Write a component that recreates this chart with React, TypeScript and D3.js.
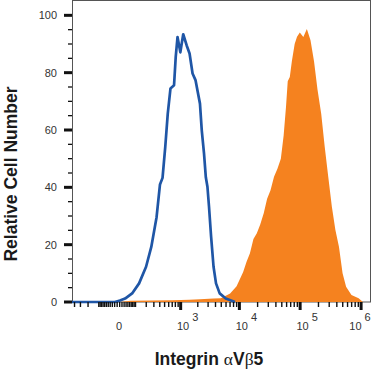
import { useEffect, useRef } from 'react';
import * as d3 from 'd3';

const WIDTH = 372;
const HEIGHT = 373;

// isotype control (blue outline)
const isotypeIntensity = [
  -450, -9, 11, 35, 76, 129, 198, 263, 343, 404, 455, 515, 576, 649, 757, 813, 877, 987, 1112, 1281,
  1440, 1624, 1826, 2180, 2340, 2558, 2745, 2924, 3105, 3372, 3708, 4080, 4700, 5940, 8470,
];
const isotypeCount = [
  0, 0, 0.5, 1.2, 3.0, 6.5, 12.3, 19.2, 29.6, 41.0, 43.3, 54.1, 65.7, 74.5, 75.6, 85.5, 92.4, 87.1, 93.4, 89.5,
  86.7, 79.7, 77.4, 69.2, 59.9, 51.8, 43.5, 40.2, 33.4, 22.8, 12.3, 6.5, 3.0, 1.2, 0,
];

// anti-Integrin aVb5 stained (orange fill)
const stainedIntensity = [
  11, 65, 263, 701, 1425, 2180, 3708, 4920, 7020, 8990, 11550, 13140, 14950, 17070, 19420, 22090, 25220,
  28680, 32630, 37260, 42390, 48220, 53560, 58590, 62590, 67680, 73160, 81340, 88960, 98830, 112900,
  129000, 148000, 169000, 193000, 221800, 253400, 289300, 331700, 379000, 433500, 497000, 567800,
  695000, 911000, 1071000,
];
const stainedCount = [
  0, 0.4, 0.5, 0.6, 0.8, 1.0, 1.2, 1.3, 3.0, 5.5, 10.5, 14, 17, 22, 24, 27, 31, 36, 39, 43.7, 46.5, 50, 58,
  68, 77, 78.5, 84, 90, 92.5, 94, 92.4, 95.2, 91.3, 84, 74, 65.7, 54.1, 43.7, 33.2, 25.1, 19.3, 10, 5.3, 2.4,
  1.3, 0,
];

const yMajorTicks = [0, 20, 40, 60, 80, 100];
const xDecades = [1e3, 1e4, 1e5, 1e6];
const xDecadeExponents = ['3', '4', '5', '6'];

const LEFT = 72;
const RIGHT = 370;
const TOP = 1;
const BOTTOM = 302;

export default function App() {
  const svgRef = useRef<SVGSVGElement>(null);

  useEffect(() => {
    if (!svgRef.current) return;
    const svg = d3.select(svgRef.current);
    svg.selectAll('*').remove();

    const x = d3.scaleSymlog().constant(100).domain([-450, 1.4e6]).range([LEFT, RIGHT]);
    const y = d3.scaleLinear().domain([0, 105]).range([BOTTOM, TOP]);

    // frame
    svg
      .append('rect')
      .attr('x', LEFT + 0.5)
      .attr('y', TOP - 0.5)
      .attr('width', RIGHT - LEFT)
      .attr('height', BOTTOM - TOP + 0.5)
      .attr('fill', 'none')
      .attr('stroke', '#555')
      .attr('stroke-width', 1);

    // stained histogram
    const stained = stainedIntensity.map((v, i) => [v, stainedCount[i]] as [number, number]);
    const area = d3
      .area<[number, number]>()
      .x((d) => x(d[0]))
      .y0(y(0))
      .y1((d) => y(d[1]));
    svg.append('path').attr('d', area(stained)).attr('fill', '#f5821f');

    // isotype histogram
    const isotype = isotypeIntensity.map((v, i) => [v, isotypeCount[i]] as [number, number]);
    const line = d3
      .line<[number, number]>()
      .x((d) => x(d[0]))
      .y((d) => y(d[1]));
    svg
      .append('path')
      .attr('d', line(isotype))
      .attr('fill', 'none')
      .attr('stroke', '#1f56a6')
      .attr('stroke-width', 2.7)
      .attr('stroke-linejoin', 'round');

    // y axis ticks
    const yMinor = d3.range(5, 100, 5).filter((v) => v % 20 !== 0);
    svg
      .selectAll('.ymin')
      .data(yMinor)
      .join('line')
      .attr('x1', LEFT - 4)
      .attr('x2', LEFT)
      .attr('y1', (d) => y(d))
      .attr('y2', (d) => y(d))
      .attr('stroke', '#111')
      .attr('stroke-width', 1.3);
    svg
      .selectAll('.ymaj')
      .data(yMajorTicks)
      .join('line')
      .attr('x1', LEFT - 8)
      .attr('x2', LEFT)
      .attr('y1', (d) => y(d))
      .attr('y2', (d) => y(d))
      .attr('stroke', '#111')
      .attr('stroke-width', 3);
    svg
      .selectAll('.ylab')
      .data(yMajorTicks)
      .join('text')
      .attr('x', LEFT - 15)
      .attr('y', (d) => y(d) + 4)
      .attr('text-anchor', 'end')
      .attr('fill', '#333')
      .style('font-family', 'Liberation Sans, Arial, sans-serif')
      .style('font-size', '11px')
      .text((d) => d);

    // x axis ticks (logicle-like)
    const xMinor: number[] = [0];
    for (let n = 1; n <= 5; n++) {
      for (let k = 1; k <= 9; k++) {
        const v = k * Math.pow(10, n);
        if (!xDecades.includes(v)) xMinor.push(v);
      }
    }
    for (let k = 1; k <= 9; k++) xMinor.push(-k * 10);
    for (let k = 1; k <= 4; k++) xMinor.push(-k * 100);

    svg
      .selectAll('.xmin')
      .data(xMinor)
      .join('line')
      .attr('x1', (d) => x(d))
      .attr('x2', (d) => x(d))
      .attr('y1', BOTTOM)
      .attr('y2', BOTTOM + 5)
      .attr('stroke', '#111')
      .attr('stroke-width', 1.4);
    svg
      .selectAll('.xmaj')
      .data(xDecades)
      .join('line')
      .attr('x1', (d) => x(d))
      .attr('x2', (d) => x(d))
      .attr('y1', BOTTOM)
      .attr('y2', BOTTOM + 8)
      .attr('stroke', '#111')
      .attr('stroke-width', 3);

    svg
      .append('text')
      .attr('x', x(0) + 2)
      .attr('y', 330)
      .attr('text-anchor', 'middle')
      .attr('fill', '#333')
      .style('font-family', 'Liberation Sans, Arial, sans-serif')
      .style('font-size', '11px')
      .text('0');

    xDecades.forEach((d, i) => {
      const cx = Math.min(x(d) + 7, WIDTH - 12);
      const t = svg
        .append('text')
        .attr('x', cx)
        .attr('y', 330)
        .attr('text-anchor', 'middle')
        .attr('fill', '#333')
        .style('font-family', 'Liberation Sans, Arial, sans-serif')
        .style('font-size', '11px');
      t.append('tspan').text('10');
      t.append('tspan').attr('dx', 3).attr('dy', -9).text(xDecadeExponents[i]);
    });

    // axis titles
    const xt = svg
      .append('text')
      .attr('x', 209)
      .attr('y', 365)
      .attr('text-anchor', 'middle')
      .attr('fill', '#1a1a1a')
      .style('font-family', 'Liberation Sans, Arial, sans-serif')
      .style('font-size', '17.5px')
      .style('font-weight', '700');
    xt.append('tspan').text('Integrin ');
    xt.append('tspan').style('font-family', 'Liberation Serif, serif').style('font-weight', '400').text('α');
    xt.append('tspan').text('V');
    xt.append('tspan').style('font-family', 'Liberation Serif, serif').style('font-weight', '400').text('β');
    xt.append('tspan').text('5');

    svg
      .append('text')
      .attr('transform', 'translate(17,174) rotate(-90)')
      .attr('text-anchor', 'middle')
      .attr('fill', '#1a1a1a')
      .style('font-family', 'Liberation Sans, Arial, sans-serif')
      .style('font-size', '17.5px')
      .style('font-weight', '700')
      .text('Relative Cell Number');
  }, []);

  return (
    <svg
      ref={svgRef}
      width={WIDTH}
      height={HEIGHT}
      viewBox={`0 0 ${WIDTH} ${HEIGHT}`}
      style={{ position: 'absolute', left: 0, top: 0, background: '#fff' }}
    />
  );
}
